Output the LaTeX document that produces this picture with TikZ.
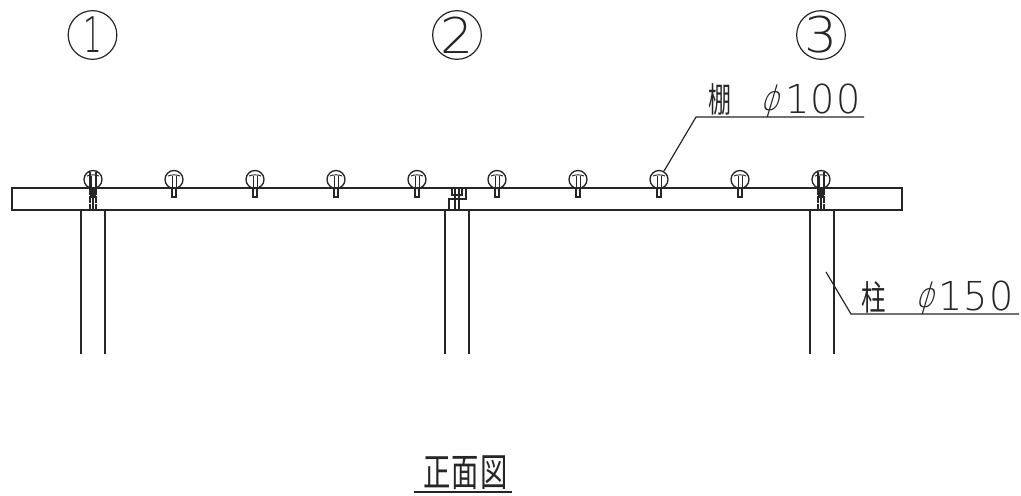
\documentclass[tikz,border=0pt]{standalone}
\usepackage{fontspec}
\setmainfont{Noto Sans CJK JP}
\newfontfamily\thin{DejaVu Sans ExtraLight}
\tikzset{
  x=0.75pt,y=-0.75pt,
  cadline/.style={draw=black!85,line width=0.9pt},
  thinline/.style={draw=black!85,line width=0.7pt},
  bubble/.style={circle,draw=black!85,line width=0.9pt,minimum size=36.5pt,inner sep=0pt},
  purlin/.style={circle,draw=black!85,line width=1pt,minimum size=13.5pt,inner sep=0pt},
  label/.style={inner sep=0pt,outer sep=0pt,anchor=base west,text=black!85},
  gridnum/.style={inner sep=0pt,text=black!85,yscale=1.42},
}
\begin{document}
\begin{tikzpicture}
\useasboundingbox (0,0) rectangle (1021,496);
% beam
\draw[cadline] (12,188) rectangle (902,210);
% posts
\foreach \px in {81,445,810}{
  \draw[cadline] (\px,210) -- (\px,354);
  \draw[cadline] (\px+24,210) -- (\px+24,354);
}
% axis bubbles
\node[bubble] (b1) at (92.5,35) {};
\node[bubble] (b2) at (457,35) {};
\node[bubble] (b3) at (821,35) {};
\node[gridnum,xscale=.85] at (b1) {\thin\fontsize{26pt}{26pt}\selectfont 1};
\node[gridnum,xscale=1.5] at (b2) {\thin\fontsize{26pt}{26pt}\selectfont 2};
\node[gridnum,xscale=1.5] at (b3) {\thin\fontsize{26pt}{26pt}\selectfont 3};
% purlins
\foreach \i/\px in {1/93,2/174,3/255,4/336,5/417,6/497,7/578,8/659,9/740,10/821}{
  \node[purlin] (p\i) at (\px,179.5) {};
  \draw[thinline] (\px-2,176) -- (\px-2,188) (\px+2,176) -- (\px+2,188);
  \draw[thinline] (\px-6,176) .. controls (\px-3,174.5) and (\px+3,174.5) .. (\px+6,176);
  \draw[cadline] (\px-2,188) -- (\px-2,197) -- (\px+2,197) -- (\px+2,188);
}
% through bolts at posts
\foreach \px in {93,821}{
  \draw[cadline] (\px-3,172) -- (\px-3,188) (\px+3,172) -- (\px+3,188);
  \draw[cadline,dash pattern=on 5pt off 1pt] (\px-3,188) -- (\px-3,210);
  \draw[cadline,dash pattern=on 5pt off 1pt] (\px+3,188) -- (\px+3,210);
  \draw[cadline] (\px,188) -- (\px,210);
}
% centre joint
\draw[cadline] (466,188) -- (466,199) -- (449,199) -- (449,210);
\draw[cadline] (452,188) -- (452,195) -- (462,195) -- (462,188);
\draw[cadline] (455,188) -- (455,210) (459,188) -- (459,210);
% labels
\node[label,xscale=.8,yscale=1.2] (t1) at (708,112) {\fontsize{21.5pt}{22pt}\selectfont 棚};
\node[label,xslant=.3,xscale=.85,yscale=1.02] (d1) at (760,110) {\thin\fontsize{25pt}{25pt}\selectfont ϕ};
\node[label,xscale=1.1,yscale=1.15] at (785,113) {\thin\addfontfeature{LetterSpace=4}\fontsize{26pt}{26pt}\selectfont 100};
\node[label,xscale=.85,yscale=1.2] (t2) at (861,310) {\fontsize{21.5pt}{22pt}\selectfont 柱};
\node[label,xslant=.3,xscale=.85,yscale=1.02] (d2) at (915,307) {\thin\fontsize{25pt}{25pt}\selectfont ϕ};
\node[label,xscale=1.1,yscale=1.15] at (938,310) {\thin\addfontfeature{LetterSpace=4}\fontsize{26pt}{26pt}\selectfont 150};
\node[label,yscale=1.42] (t3) at (423,486) {\fontsize{20.5pt}{21pt}\addfontfeature{LetterSpace=5}\selectfont 正面図};
% leaders
\coordinate (l1) at (696,117);
\coordinate (l1e) at (864,117);
\coordinate (l2s) at (826,272);
\coordinate (l2) at (851,314);
\coordinate (l2e) at (1019,314);
\coordinate (u1) at (414,492);
\coordinate (u2) at (512,492);
\draw[cadline] (p8) -- (l1) -- (l1e);
\draw[cadline] (l2s) -- (l2) -- (l2e);
\draw[cadline] (u1) -- (u2);
\end{tikzpicture}
\end{document}
